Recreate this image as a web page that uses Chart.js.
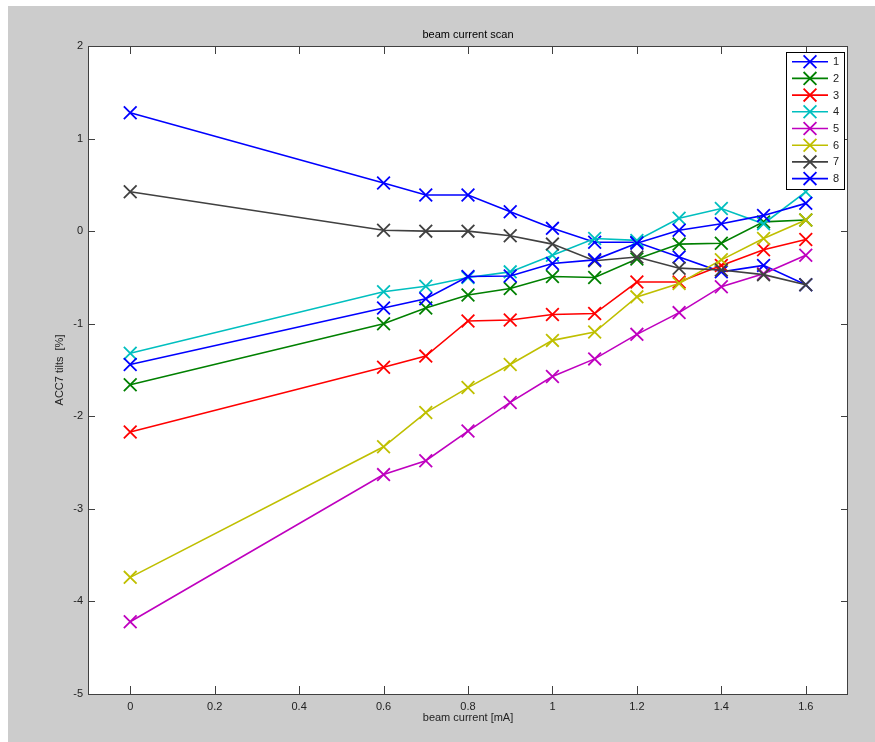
<!DOCTYPE html>
<html lang="en">
<head>
  <meta charset="UTF-8" />
  <title>beam current scan</title>
  <script src="https://cdn.jsdelivr.net/npm/chart.js"></script>
  <style>
    html, body { margin: 0; padding: 0; background: #fff; }
    #wrap { position: absolute; left: 8px; top: 6px; width: 867px; height: 736px; background: #cccccc; }
  </style>
</head>
<body>
  <div id="wrap"><canvas id="scanChart" width="867" height="736"></canvas></div>

  <script>
    // beam current [mA]
    const current = [0, 0.6, 0.7, 0.8, 0.9, 1.0, 1.1, 1.2, 1.3, 1.4, 1.5, 1.6];

    // ACC7 tilts [%], one array per tilt
    const tilt1 = [1.28, 0.52, 0.39, 0.39, 0.21, 0.03, -0.12, -0.12, -0.28, -0.44, -0.37, -0.58];
    const tilt2 = [-1.66, -1.00, -0.83, -0.69, -0.62, -0.49, -0.50, -0.30, -0.14, -0.13, 0.10, 0.12];
    const tilt3 = [-2.17, -1.47, -1.35, -0.97, -0.96, -0.90, -0.89, -0.55, -0.55, -0.37, -0.20, -0.09];
    const tilt4 = [-1.32, -0.655, -0.595, -0.50, -0.44, -0.26, -0.08, -0.10, 0.14, 0.245, 0.08, 0.425];
    const tilt5 = [-4.22, -2.63, -2.48, -2.16, -1.85, -1.57, -1.38, -1.115, -0.88, -0.60, -0.46, -0.26];
    const tilt6 = [-3.74, -2.33, -1.96, -1.69, -1.44, -1.18, -1.09, -0.71, -0.565, -0.31, -0.08, 0.12];
    const tilt7 = [0.425, 0.01, 0.0, 0.0, -0.05, -0.14, -0.32, -0.28, -0.40, -0.42, -0.47, -0.58];
    const tilt8 = [-1.44, -0.83, -0.73, -0.49, -0.485, -0.35, -0.31, -0.13, 0.01, 0.08, 0.17, 0.30];

    const seriesNames = ["1", "2", "3", "4", "5", "6", "7", "8"];
    const seriesColors = ["#0000ff", "#008000", "#ff0000", "#00bfbf", "#bf00bf", "#bfbf00", "#404040", "#0000ff"];
    const allTilts = [tilt1, tilt2, tilt3, tilt4, tilt5, tilt6, tilt7, tilt8];

    const xTicks = [0, 0.2, 0.4, 0.6, 0.8, 1.0, 1.2, 1.4, 1.6];
    const yTicks = [-5, -4, -3, -2, -1, 0, 1, 2];

    const FONT = "'Liberation Sans', Arial, sans-serif";
    const AXIS_COLOR = "#404040";

    const datasets = allTilts.map((vals, i) => ({
      label: seriesNames[i],
      data: current.map((x, k) => ({ x: x, y: vals[k] })),
      borderColor: seriesColors[i],
      backgroundColor: seriesColors[i],
      borderWidth: 1.6,
      pointStyle: "crossRot",
      pointRadius: 9,
      pointHoverRadius: 9,
      pointBorderWidth: 1.8,
      order: allTilts.length - i,   // last series on top, like the original
      tension: 0
    }));

    // box, inward ticks and the legend
    const frame = {
      id: "frame",
      beforeDatasetsDraw(chart) {
        const { ctx, chartArea: a } = chart;
        ctx.save();
        ctx.fillStyle = "#fff";
        ctx.fillRect(a.left, a.top, a.right - a.left, a.bottom - a.top);
        ctx.restore();
      },
      afterDatasetsDraw(chart) {
        const { ctx, chartArea: a, scales } = chart;
        ctx.save();
        ctx.strokeStyle = AXIS_COLOR;
        ctx.lineWidth = 1;
        ctx.strokeRect(a.left + 0.5, a.top + 0.5, a.right - a.left - 1, a.bottom - a.top);
        ctx.beginPath();
        xTicks.forEach(v => {
          const px = Math.round(scales.x.getPixelForValue(v)) + 0.5;
          ctx.moveTo(px, a.bottom); ctx.lineTo(px, a.bottom - 8);
          ctx.moveTo(px, a.top); ctx.lineTo(px, a.top + 8);
        });
        yTicks.forEach(v => {
          const py = Math.round(scales.y.getPixelForValue(v)) + 0.5;
          ctx.moveTo(a.left, py); ctx.lineTo(a.left + 7, py);
          ctx.moveTo(a.right, py); ctx.lineTo(a.right - 7, py);
        });
        ctx.stroke();

        // legend
        const lx = 778, ly = 46, lw = 58, lh = 137;
        ctx.fillStyle = "#fff";
        ctx.fillRect(lx, ly, lw, lh);
        ctx.strokeStyle = "#000";
        ctx.strokeRect(lx + 0.5, ly + 0.5, lw, lh);
        ctx.font = "11px " + FONT;
        ctx.textBaseline = "middle";
        ctx.textAlign = "left";
        chart.data.datasets.forEach((ds, i) => {
          const cy = 55.7 + i * 16.7;
          ctx.strokeStyle = ds.borderColor;
          ctx.lineWidth = 1.6;
          ctx.beginPath();
          ctx.moveTo(784, cy); ctx.lineTo(820, cy);
          ctx.stroke();
          ctx.lineWidth = 1.8;
          ctx.beginPath();
          ctx.moveTo(802 - 6.4, cy - 6.4); ctx.lineTo(802 + 6.4, cy + 6.4);
          ctx.moveTo(802 + 6.4, cy - 6.4); ctx.lineTo(802 - 6.4, cy + 6.4);
          ctx.stroke();
          ctx.fillStyle = "#222";
          ctx.fillText(ds.label, 825, cy + 0.5);
        });
        ctx.restore();
      }
    };

    const ctx = document.getElementById("scanChart").getContext("2d");
    new Chart(ctx, {
      type: "line",
      data: { datasets: datasets },
      plugins: [frame],
      options: {
        responsive: false,
        animation: false,
        events: [],
        layout: { padding: { top: 0, left: 0, right: 27, bottom: 0 } },
        plugins: {
          legend: { display: false },
          tooltip: { enabled: false },
          title: {
            display: true,
            text: "beam current scan",
            fullSize: false,
            color: "#000",
            font: { family: FONT, size: 11, weight: "normal", lineHeight: 1.2 },
            padding: { top: 22, bottom: 4.8 }
          }
        },
        scales: {
          x: {
            type: "linear",
            min: -0.1,
            max: 1.7,
            grid: { display: false, drawTicks: false },
            border: { display: false },
            afterBuildTicks: s => { s.ticks = xTicks.map(v => ({ value: v })); },
            afterFit: s => { s.height = 48; },
            ticks: {
              color: "#222",
              padding: 6,
              maxRotation: 0,
              autoSkip: false,
              font: { family: FONT, size: 11 },
              callback: v => String(Math.round(v * 10) / 10)
            },
            title: {
              display: true,
              text: "beam current [mA]",
              color: "#222",
              font: { family: FONT, size: 11, lineHeight: 1.2 },
              padding: { top: 0, bottom: 17.4 }
            }
          },
          y: {
            min: -5,
            max: 2,
            grid: { display: false, drawTicks: false },
            border: { display: false },
            afterBuildTicks: s => { s.ticks = yTicks.map(v => ({ value: v })); },
            afterFit: s => { s.width = 80; },
            ticks: {
              color: "#222",
              padding: 5,
              font: { family: FONT, size: 11 }
            },
            title: {
              display: true,
              text: "ACC7 tilts  [%]",
              color: "#222",
              font: { family: FONT, size: 11, lineHeight: 1.2 },
              padding: { top: 45.4, bottom: 0 }
            }
          }
        }
      }
    });
  </script>
</body>
</html>
